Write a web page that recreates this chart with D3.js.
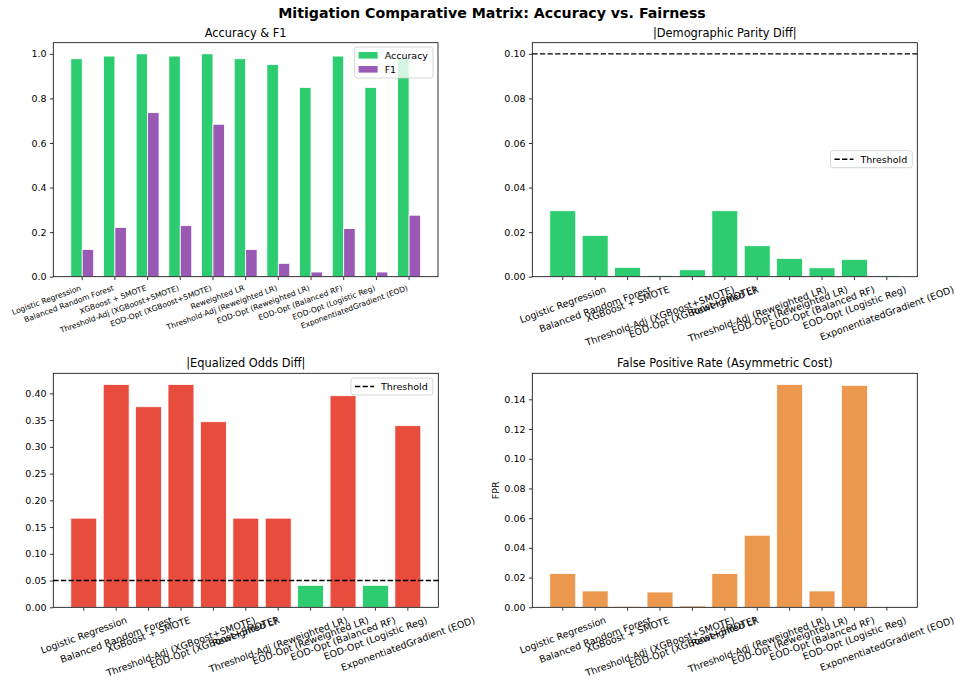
<!DOCTYPE html>
<html>
<head>
<meta charset="utf-8">
<script src="https://cdn.jsdelivr.net/npm/d3@7"></script>
<style>
  body { margin: 0; background: #fff; }
  text { font-family: "DejaVu Sans", sans-serif; fill: #000; }
</style>
</head>
<body>
<div id="chart"></div>
<script>
// model names, in plot order
const models = [
  "Logistic Regression",
  "Balanced Random Forest",
  "XGBoost + SMOTE",
  "Threshold-Adj (XGBoost+SMOTE)",
  "EOD-Opt (XGBoost+SMOTE)",
  "Reweighted LR",
  "Threshold-Adj (Reweighted LR)",
  "EOD-Opt (Reweighted LR)",
  "EOD-Opt (Balanced RF)",
  "EOD-Opt (Logistic Reg)",
  "ExponentiatedGradient (EOD)",
];

const accuracy = [0.978, 0.99, 1.0, 0.99, 1.0, 0.978, 0.952, 0.849, 0.99, 0.849, 0.985];
const f1 = [0.122, 0.221, 0.736, 0.229, 0.684, 0.122, 0.06, 0.021, 0.216, 0.021, 0.276];
const dpDiff = [0.0296, 0.0185, 0.0042, 0.0006, 0.0031, 0.0296, 0.0139, 0.0082, 0.004, 0.0078, 0.0004];
const eodDiff = [0.1667, 0.4167, 0.375, 0.4167, 0.347, 0.1667, 0.1667, 0.0411, 0.3956, 0.0411, 0.3396];
const fpr = [0.0227, 0.011, 0.0007, 0.0103, 0.0009, 0.0227, 0.0485, 0.15, 0.011, 0.1494, 0.0];

const dpThreshold = 0.1;
const eodThreshold = 0.05;

const colors = {
  accuracy: "#2ecc71",
  f1: "#9b59b6",
  fair: "#2ecc71",
  unfair: "#e74c3c",
  fpr: "#e67e22",
};

const width = 956;
const height = 683;

const svg = d3
  .select("#chart")
  .append("svg")
  .attr("width", width)
  .attr("height", height);

svg
  .append("text")
  .attr("x", 492)
  .attr("y", 18)
  .attr("text-anchor", "middle")
  .attr("font-size", 14.2)
  .attr("font-weight", "bold")
  .text("Mitigation Comparative Matrix: Accuracy vs. Fairness");

const tickFont = 9.5;
const deg = (20 * Math.PI) / 180;

// matplotlib-like panel: frame, y axis, title
function makePanel(box, opts) {
  const g = svg.append("g");
  const x = d3
    .scaleLinear()
    .domain(opts.xDomain)
    .range([box.left, box.right]);
  const y = d3
    .scaleLinear()
    .domain(opts.yDomain)
    .range([box.bottom, box.top]);

  const yAxis = d3
    .axisLeft(y)
    .tickValues(opts.yTicks)
    .tickFormat(d3.format(opts.yFormat))
    .tickSize(3.4)
    .tickPadding(3.4);

  const ag = g
    .append("g")
    .attr("transform", `translate(${box.left},0)`)
    .call(yAxis);
  ag.select(".domain").remove();
  ag.selectAll("line").attr("stroke", "#000").attr("stroke-width", 0.8);
  ag.selectAll("text")
    .attr("font-size", tickFont)
    .attr("font-family", "DejaVu Sans")
    .attr("fill", "#000");

  g.append("text")
    .attr("x", (box.left + box.right) / 2)
    .attr("y", box.top - 6)
    .attr("text-anchor", "middle")
    .attr("font-size", 11.4)
    .text(opts.title);

  if (opts.ylabel) {
    g.append("text")
      .attr(
        "transform",
        `translate(${box.left - 33},${(box.top + box.bottom) / 2}) rotate(-90)`
      )
      .attr("text-anchor", "middle")
      .attr("font-size", tickFont)
      .text(opts.ylabel);
  }

  // x ticks
  models.forEach((m, i) => {
    g.append("line")
      .attr("x1", x(i))
      .attr("x2", x(i))
      .attr("y1", box.bottom)
      .attr("y2", box.bottom + 3.4)
      .attr("stroke", "#000")
      .attr("stroke-width", 0.8);
  });

  const marks = g.append("g");
  const over = g.append("g");

  // frame drawn on top
  over
    .append("rect")
    .attr("x", box.left)
    .attr("y", box.top)
    .attr("width", box.right - box.left)
    .attr("height", box.bottom - box.top)
    .attr("fill", "none")
    .attr("stroke", "#000")
    .attr("stroke-width", 0.8);

  return { g, x, y, marks, over, box };
}

// rotated tick labels, ha = "center" or "right" (matplotlib style)
function xLabels(panel, fontSize, ha) {
  const { g, x, box } = panel;
  const y0 = box.bottom + 3.4 + 3.4;
  models.forEach((name, i) => {
    const t = g
      .append("text")
      .attr("font-size", fontSize)
      .attr("text-anchor", "middle")
      .attr("dominant-baseline", "central")
      .text(name);
    const w = t.node().getComputedTextLength();
    const h = fontSize * 1.17;
    const W = w * Math.cos(deg) + h * Math.sin(deg);
    const H = w * Math.sin(deg) + h * Math.cos(deg);
    const cx = ha === "right" ? x(i) - W / 2 : x(i);
    t.attr("transform", `translate(${cx},${y0 + H / 2}) rotate(-20)`);
  });
}

function thresholdLine(panel, value) {
  panel.over
    .append("line")
    .attr("x1", panel.box.left)
    .attr("x2", panel.box.right)
    .attr("y1", panel.y(value))
    .attr("y2", panel.y(value))
    .attr("stroke", "#000")
    .attr("stroke-width", 1.4)
    .attr("stroke-dasharray", "5.3,2.3");
}

// legend box; items: {label, type: "patch"|"dash", color}
function legend(panel, items, right, top) {
  const lg = panel.over.append("g");
  const rowH = 14;
  const frame = lg.append("rect");
  let textW = 0;
  const rows = items.map((d, i) => {
    const cy = top + 8.5 + i * rowH;
    const t = lg
      .append("text")
      .attr("y", cy)
      .attr("dominant-baseline", "central")
      .attr("font-size", tickFont)
      .text(d.label);
    textW = Math.max(textW, t.node().getComputedTextLength());
    return { d, cy, t };
  });
  const boxW = 30 + textW + 5;
  const boxH = items.length * rowH + 3;
  const left = right - boxW;
  frame
    .attr("x", left)
    .attr("y", top)
    .attr("width", boxW)
    .attr("height", boxH)
    .attr("rx", 2.5)
    .attr("fill", "#fff")
    .attr("fill-opacity", 0.8)
    .attr("stroke", "#ccc")
    .attr("stroke-width", 0.8);
  rows.forEach(({ d, cy, t }) => {
    t.attr("x", left + 30);
    if (d.type === "patch") {
      lg.append("rect")
        .attr("x", left + 4)
        .attr("y", cy - 3.5)
        .attr("width", 19)
        .attr("height", 6.6)
        .attr("fill", d.color);
    } else {
      lg.append("line")
        .attr("x1", left + 4)
        .attr("x2", left + 23)
        .attr("y1", cy)
        .attr("y2", cy)
        .attr("stroke", "#000")
        .attr("stroke-width", 1.4)
        .attr("stroke-dasharray", "5.3,2.3");
    }
  });
}

function drawBars(panel, values, offset, bw, fill, opacity) {
  panel.marks
    .selectAll(null)
    .data(values)
    .join("rect")
    .attr("x", (d, i) => panel.x(i + offset - bw / 2))
    .attr("width", (d, i) => panel.x(i + offset + bw / 2) - panel.x(i + offset - bw / 2))
    .attr("y", (d) => panel.y(d))
    .attr("height", (d) => panel.y(0) - panel.y(d))
    .attr("fill", fill)
    .attr("fill-opacity", opacity)
    .attr("stroke", "#fff")
    .attr("stroke-width", 0.8);
}

const n = models.length;
const pad = (lo, hi) => [lo - (hi - lo) * 0.05, hi + (hi - lo) * 0.05];

// --- Accuracy & F1 ---
const bw2 = 0.35;
const p1 = makePanel(
  { left: 53.3, right: 438, top: 42.7, bottom: 276.7 },
  {
    title: "Accuracy & F1",
    xDomain: pad(-bw2, n - 1 + bw2),
    yDomain: [0, 1.05 * d3.max(accuracy.concat(f1))],
    yTicks: d3.range(0, 1.01, 0.2),
    yFormat: ".1f",
  }
);
drawBars(p1, accuracy, -bw2 / 2, bw2, colors.accuracy, 1);
drawBars(p1, f1, bw2 / 2, bw2, colors.f1, 1);
xLabels(p1, 7.6, "right");
legend(
  p1,
  [
    { label: "Accuracy", type: "patch", color: colors.accuracy },
    { label: "F1", type: "patch", color: colors.f1 },
  ],
  433,
  47
);

// --- Demographic parity ---
const p2 = makePanel(
  { left: 532.3, right: 917.3, top: 42.7, bottom: 276.7 },
  {
    title: "|Demographic Parity Diff|",
    xDomain: pad(-0.4, n - 0.6),
    yDomain: [0, 1.05 * Math.max(d3.max(dpDiff), dpThreshold)],
    yTicks: d3.range(0, 0.101, 0.02),
    yFormat: ".2f",
  }
);
drawBars(p2, dpDiff, 0, 0.8, colors.fair, 1);
thresholdLine(p2, dpThreshold);
xLabels(p2, tickFont, "center");
legend(p2, [{ label: "Threshold", type: "dash" }], 912.3, 150.7);

// --- Equalized odds ---
const p3 = makePanel(
  { left: 53.3, right: 438.3, top: 373.3, bottom: 607.3 },
  {
    title: "|Equalized Odds Diff|",
    xDomain: pad(-0.4, n - 0.6),
    yDomain: [0, 1.05 * Math.max(d3.max(eodDiff), eodThreshold)],
    yTicks: d3.range(0, 0.401, 0.05),
    yFormat: ".2f",
  }
);
p3.marks
  .selectAll(null)
  .data(eodDiff)
  .join("rect")
  .attr("x", (d, i) => p3.x(i - 0.4))
  .attr("width", p3.x(0.4) - p3.x(-0.4))
  .attr("y", (d) => p3.y(d))
  .attr("height", (d) => p3.y(0) - p3.y(d))
  .attr("fill", (d) => (d < eodThreshold ? colors.fair : colors.unfair))
  .attr("stroke", "#fff")
  .attr("stroke-width", 0.8);
thresholdLine(p3, eodThreshold);
xLabels(p3, tickFont, "center");
legend(p3, [{ label: "Threshold", type: "dash" }], 432.8, 378);

// --- False positive rate ---
const p4 = makePanel(
  { left: 532.3, right: 917.3, top: 373.3, bottom: 607.3 },
  {
    title: "False Positive Rate (Asymmetric Cost)",
    xDomain: pad(-0.4, n - 0.6),
    yDomain: [0, 1.05 * d3.max(fpr)],
    yTicks: d3.range(0, 0.141, 0.02),
    yFormat: ".2f",
    ylabel: "FPR",
  }
);
drawBars(p4, fpr, 0, 0.8, colors.fpr, 0.8);
xLabels(p4, tickFont, "center");
</script>
</body>
</html>
